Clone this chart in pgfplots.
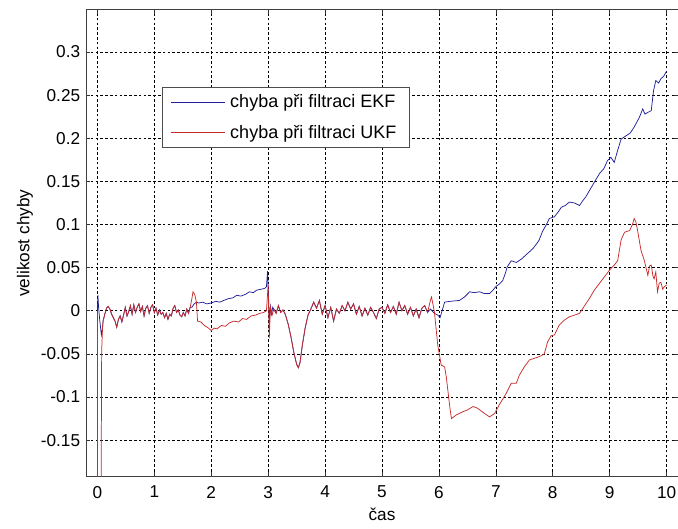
\documentclass[border=0pt]{standalone}
\usepackage{fontspec}
\setmainfont{Liberation Sans}
\usepackage{pgfplots}
\usepackage{pgfplotstable}
\pgfplotsset{compat=1.18}
\definecolor{ekfc}{rgb}{0.12,0.12,0.6}
\definecolor{ukfc}{rgb}{0.78,0.16,0.16}

\pgfplotstableread{
x y
0 0
0.01 0.018
0.02 0.005
0.04 -0.010
0.07 -0.028
0.09 -0.020
0.10 -0.012
0.13 -0.004
0.16 0.003
0.19 0.005
0.22 0.002
0.25 -0.004
0.28 -0.008
0.31 -0.012
0.34 -0.019
0.37 -0.010
0.40 -0.006
0.43 -0.013
0.46 -0.005
0.49 0.004
0.52 -0.006
0.55 -0.001
0.58 0.006
0.61 -0.004
0.64 0.007
0.67 -0.002
0.70 0.004
0.73 0.008
0.76 -0.001
0.79 0.005
0.82 -0.006
0.85 0.003
0.88 0.006
0.91 -0.003
0.94 0.004
0.97 0.007
1.00 -0.002
1.03 0.003
1.06 -0.005
1.09 0.001
1.12 -0.004
1.15 -0.002
1.18 -0.008
1.21 -0.003
1.24 -0.010
1.27 -0.004
1.30 -0.006
1.33 0.003
1.36 0.006
1.39 -0.002
1.42 0.001
1.45 -0.005
1.48 -0.007
1.51 -0.002
1.54 -0.006
1.57 0.002
1.60 -0.003
1.63 0.004
1.66 0.004
1.70 0.008
1.74 0.010
1.78 0.009
1.85 0.010
1.92 0.008
2.00 0.009
2.08 0.011
2.15 0.010
2.22 0.012
2.30 0.014
2.38 0.015
2.45 0.018
2.52 0.017
2.60 0.019
2.67 0.022
2.74 0.021
2.80 0.024
2.88 0.025
2.94 0.026
2.97 0.028
2.99 0.046
3.01 0.010
3.02 -0.013
3.04 0.005
3.06 -0.004
3.08 0.004
3.10 0.002
3.14 -0.003
3.18 0.006
3.22 -0.002
3.26 0.001
3.30 -0.004
3.35 -0.015
3.40 -0.030
3.45 -0.048
3.50 -0.062
3.53 -0.066
3.56 -0.060
3.60 -0.040
3.65 -0.020
3.70 -0.005
3.75 0.002
3.80 0.010
3.85 0.003
3.90 0.012
3.95 -0.004
4.00 0.006
4.05 -0.008
4.10 0.004
4.15 -0.012
4.20 0.002
4.25 -0.003
4.30 0.006
4.35 0.000
4.40 0.010
4.45 0.002
4.50 0.008
4.55 -0.004
4.60 0.005
4.65 -0.006
4.70 0.003
4.75 -0.005
4.80 0.004
4.85 -0.002
4.90 -0.009
4.95 0.002
5.00 0.004
5.05 -0.003
5.10 0.007
5.15 -0.002
5.20 0.005
5.25 -0.004
5.30 0.010
5.35 0.000
5.40 0.006
5.45 -0.004
5.50 0.004
5.55 -0.006
5.60 0.002
5.65 -0.008
5.70 0.003
5.75 0.006
5.80 -0.002
5.85 0.002
5.92 -0.003
5.98 -0.005
6.02 -0.008
6.06 0.001
6.10 0.010
6.20 0.011
6.36 0.012
6.45 0.016
6.54 0.022
6.62 0.021
6.71 0.022
6.80 0.020
6.89 0.020
6.95 0.024
7.00 0.028
7.06 0.031
7.12 0.035
7.17 0.044
7.20 0.051
7.27 0.058
7.36 0.056
7.45 0.060
7.55 0.066
7.65 0.072
7.72 0.078
7.76 0.082
7.82 0.092
7.88 0.099
7.94 0.107
8.03 0.109
8.10 0.115
8.15 0.120
8.22 0.122
8.29 0.126
8.38 0.125
8.47 0.122
8.52 0.127
8.58 0.132
8.65 0.140
8.73 0.149
8.82 0.159
8.90 0.165
8.96 0.174
9.02 0.178
9.08 0.172
9.14 0.186
9.20 0.199
9.29 0.203
9.36 0.206
9.43 0.213
9.52 0.224
9.58 0.234
9.62 0.228
9.67 0.230
9.73 0.232
9.77 0.255
9.81 0.267
9.86 0.264
9.90 0.269
9.95 0.272
10.00 0.278
}\ekf

\pgfplotstableread{
x y
0 0
0.005 -0.3
0.02 -0.3
0.06 -0.3
0.075 -0.048
0.09 -0.020
0.10 -0.012
0.13 -0.004
0.16 0.003
0.19 0.005
0.22 0.002
0.25 -0.004
0.28 -0.008
0.31 -0.012
0.34 -0.019
0.37 -0.010
0.40 -0.006
0.43 -0.013
0.46 -0.005
0.49 0.004
0.52 -0.006
0.55 -0.001
0.58 0.006
0.61 -0.004
0.64 0.007
0.67 -0.002
0.70 0.004
0.73 0.008
0.76 -0.001
0.79 0.005
0.82 -0.006
0.85 0.003
0.88 0.006
0.91 -0.003
0.94 0.004
0.97 0.007
1.00 -0.002
1.03 0.003
1.06 -0.005
1.09 0.001
1.12 -0.004
1.15 -0.002
1.18 -0.008
1.21 -0.003
1.24 -0.010
1.27 -0.004
1.30 -0.006
1.33 0.003
1.36 0.006
1.39 -0.002
1.42 0.001
1.45 -0.005
1.48 -0.007
1.51 -0.002
1.54 -0.006
1.57 0.002
1.60 -0.003
1.63 0.004
1.66 0.014
1.68 0.022
1.71 0.019
1.74 0.010
1.76 -0.012
1.82 -0.013
1.88 -0.017
1.95 -0.020
2.00 -0.023
2.05 -0.020
2.10 -0.021
2.18 -0.017
2.25 -0.018
2.32 -0.014
2.40 -0.012
2.48 -0.013
2.55 -0.009
2.62 -0.010
2.70 -0.006
2.78 -0.005
2.85 -0.003
2.92 -0.002
2.97 0.000
3.00 0.030
3.02 -0.032
3.04 0.004
3.07 -0.005
3.10 0.002
3.14 -0.003
3.18 0.006
3.22 -0.002
3.26 0.001
3.30 -0.004
3.35 -0.015
3.40 -0.030
3.45 -0.048
3.50 -0.062
3.53 -0.066
3.56 -0.060
3.60 -0.040
3.65 -0.020
3.70 -0.005
3.75 0.002
3.80 0.010
3.85 0.003
3.90 0.012
3.95 -0.004
4.00 0.006
4.05 -0.008
4.10 0.004
4.15 -0.012
4.20 0.002
4.25 -0.003
4.30 0.006
4.35 0.000
4.40 0.010
4.45 0.002
4.50 0.008
4.55 -0.004
4.60 0.005
4.65 -0.006
4.70 0.003
4.75 -0.005
4.80 0.004
4.85 -0.002
4.90 -0.009
4.95 0.002
5.00 0.004
5.05 -0.003
5.10 0.007
5.15 -0.002
5.20 0.005
5.25 -0.004
5.30 0.010
5.35 0.000
5.40 0.006
5.45 -0.004
5.50 0.004
5.55 -0.006
5.60 0.002
5.65 -0.008
5.70 0.003
5.75 0.006
5.80 -0.002
5.85 0.012
5.87 0.016
5.92 -0.001
5.98 -0.040
6.04 -0.063
6.10 -0.065
6.13 -0.077
6.19 -0.111
6.22 -0.125
6.30 -0.121
6.42 -0.117
6.50 -0.115
6.60 -0.111
6.68 -0.113
6.80 -0.119
6.89 -0.123
6.98 -0.119
7.06 -0.109
7.18 -0.096
7.27 -0.084
7.36 -0.084
7.41 -0.075
7.50 -0.065
7.59 -0.057
7.68 -0.055
7.77 -0.053
7.85 -0.050
7.91 -0.036
7.97 -0.029
8.03 -0.028
8.11 -0.017
8.20 -0.011
8.29 -0.007
8.38 -0.005
8.47 -0.003
8.58 0.008
8.65 0.015
8.73 0.024
8.80 0.030
8.88 0.037
8.95 0.043
9.02 0.049
9.08 0.053
9.14 0.058
9.20 0.082
9.26 0.091
9.35 0.093
9.40 0.100
9.43 0.107
9.46 0.103
9.49 0.093
9.55 0.070
9.61 0.058
9.67 0.041
9.70 0.052
9.73 0.053
9.76 0.040
9.78 0.037
9.81 0.045
9.84 0.022
9.87 0.032
9.90 0.033
9.93 0.025
9.96 0.028
10.00 0.030
}\ukf

\begin{document}
\begin{tikzpicture}[font=\fontsize{12.9}{15}\selectfont]
\begin{axis}[
  scale only axis,
  width=444pt, height=350pt,
  xmin=-0.2, xmax=10.2,
  ymin=-0.192, ymax=0.349,
  xtick={0,1,2,3,4,5,6,7,8,9,10},
  xticklabels={0,1,2,3,4,5,6,7,8,9,10},
  ytick={-0.15,-0.1,-0.05,0,0.05,0.1,0.15,0.2,0.25,0.3},
  yticklabels={-0.15,-0.1,-0.05,0,0.05,0.1,0.15,0.2,0.25,0.3},
  tick align=inside,
  major tick length=3pt,
  tick style={black!80, line width=0.5pt},
  axis line style={black!75, line width=0.7pt},
  grid=major,
  major grid style={black, line width=0.5pt, dash pattern=on 2pt off 1.6pt},
  xticklabel style={inner sep=0pt, anchor=north, yshift=-7pt},
  yticklabel style={inner sep=0pt, anchor=east, xshift=-4.2pt},
  xlabel={čas},
  ylabel={velikost chyby},
  xlabel style={at={(axis description cs:0.5,-0.0814)}, anchor=center, inner sep=0pt},
  ylabel style={at={(axis description cs:-0.103,0.5)}, anchor=center, inner sep=0pt},
  legend cell align=left,
  legend image code/.code={\draw[#1] (0pt,0pt) -- (40.5pt,0pt);},
  legend style={at={(rel axis cs:0.128,0.8345)}, anchor=north west,
    font=\fontsize{13.5}{16}\selectfont,
    draw=black!70, line width=0.6pt, inner xsep=6pt, inner ysep=3.5pt,
    row sep=7.5pt,
    nodes={inner xsep=4pt, inner ysep=2pt, line width=0.5pt}},
]
\addplot[ekfc, line width=0.55pt] table[x=x,y=y] {\ekf};
\addlegendentry{chyba při filtraci EKF}
\addplot[ukfc, line width=0.55pt] table[x=x,y=y] {\ukf};
\addlegendentry{chyba při filtraci UKF}
\coordinate (bl) at (rel axis cs:0,0);
\coordinate (tr) at (rel axis cs:1,1);
\end{axis}
\pgfresetboundingbox
\path ([shift={(-64.5pt,-39pt)}]bl) rectangle ([shift={(0pt,7.3pt)}]tr);
\end{tikzpicture}
\end{document}
